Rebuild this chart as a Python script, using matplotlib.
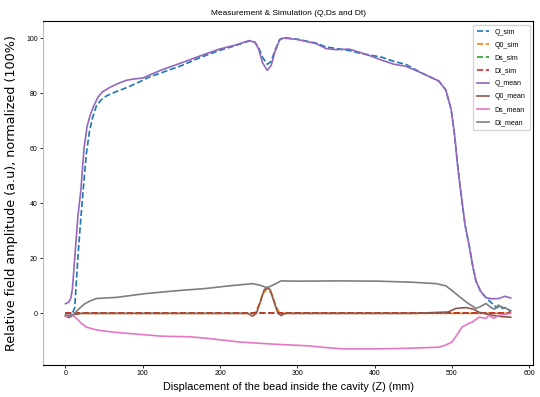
import matplotlib
matplotlib.use('Agg')
import matplotlib.pyplot as plt

#----Data----#
q_mean_x = [0, 4, 7, 9, 12, 16, 20, 24, 28, 32, 36, 42, 48, 58, 68, 79, 90, 100, 108, 125,
            150, 173, 199, 220, 238, 245, 250, 255, 261, 266, 271, 277, 282, 300, 324, 337,
            350, 367, 381, 395, 410, 425, 440, 461, 483, 492, 499, 503, 508, 513, 517, 522,
            527, 531, 537, 544, 552, 561, 568, 576]
q_mean_y = [3.5, 4, 5.5, 9, 20, 35, 45, 60, 68, 72, 75, 78.5, 80.5, 82.2, 83.5, 84.7, 85.2, 85.5, 86.5, 88.5,
            91, 93.4, 96, 97.5, 99.1, 98.5, 96, 91, 88.3, 90, 95, 99.3, 100, 99.5, 98, 96.2,
            95.8, 96, 94.8, 93.5, 91.9, 90.5, 89.8, 87.3, 84.4, 81.2, 74, 65.7, 52, 40.6, 32, 25,
            17, 11.8, 8, 5.7, 5.3, 5.4, 6.2, 5.6]

q_sim_x = [0, 8, 12, 16, 20, 23, 27, 31, 35, 40, 46, 53, 65, 79, 95, 108, 130, 150, 173, 199,
           220, 238, 245, 250, 255, 261, 266, 271, 277, 282, 300, 324, 337, 367, 381, 395, 410,
           425, 440, 461, 483, 492, 499, 503, 508, 513, 517, 522, 527, 531, 537, 544, 552, 558,
           562, 565, 570, 576]
q_sim_y = [-1, -0.5, 2, 20, 35, 45, 58, 66, 71, 75.4, 77.5, 79, 80.5, 82, 84, 85.8, 88, 90, 92.8, 95.5,
           97.3, 99, 98.5, 96.5, 93, 90.5, 91.5, 95.5, 99.5, 100.2, 99.6, 98.2, 96.8, 95.5, 94.5, 93.8, 93,
           91.5, 90.5, 87.3, 84.4, 81.2, 74, 65.7, 52, 40.6, 32, 25, 17, 11.8, 8, 5.7, 3.6, 2,
           3, 1.8, 2.2, 0.4]

dt_mean_x = [0, 5, 10, 18, 25, 32, 40, 66, 85, 104, 147, 180, 212, 242, 252, 261, 270, 279, 300,
             354, 406, 450, 480, 492, 500, 510, 520, 531, 537, 544, 550, 555, 560, 565, 570, 576]
dt_mean_y = [-0.5, -1, -0.5, 1.8, 3.5, 4.5, 5.4, 5.8, 6.5, 7.2, 8.3, 9, 10, 10.8, 10.2, 9.3, 10.5, 11.8, 11.7,
             11.8, 11.7, 11.3, 10.8, 10, 8.3, 6, 3.8, 1.8, 2.5, 3.6, 2.2, 1.5, 3, 2.2, 1.8, 1]

ds_mean_x = [0, 9, 15, 20, 27, 40, 61, 90, 125, 160, 181, 225, 270, 314, 340, 359, 380, 403, 440,
             483, 492, 500, 506, 513, 522, 526, 535, 544, 548, 554, 561, 576]
ds_mean_y = [-1, -0.7, -2, -3.5, -5, -6, -6.8, -7.5, -8.3, -8.5, -9, -10.4, -11.2, -11.8, -12.5, -12.9, -12.9, -12.9, -12.7,
             -12.3, -11.5, -10.4, -8, -5, -3.6, -3.2, -1.4, -1.8, -0.7, -1.8, -0.7, 0]

q0_mean_x = [0, 5, 10, 20, 100, 200, 236, 242, 247, 252, 257, 261, 265, 270, 275, 279, 284, 350,
             450, 495, 505, 518, 528, 535, 552, 565, 576]
q0_mean_y = [-1, -1.5, -0.5, 0, 0, 0, 0, -1, 0, 4, 8.5, 9.5, 8.5, 4, 0, -0.8, 0, 0,
             0, 0.5, 1.8, 2.1, 1.5, 0.4, -0.7, -1.2, -1.4]

q0_sim_x = [0, 245, 250, 255, 261, 267, 272, 277, 576]
q0_sim_y = [0, 0, 3, 7, 9, 7, 3, 0, 0]

zero_x = [0, 576]
zero_y = [0, 0]

narrow = 'Liberation Sans'

#----Plot----#
fig, ax = plt.subplots(figsize=(5.4, 3.97), dpi=100)
fig.subplots_adjust(left=0.08, right=0.987, top=0.947, bottom=0.081)

ax.plot(q_sim_x, q_sim_y, '--', color='C0', lw=1.2, label='Q_sim')
ax.plot(q0_sim_x, q0_sim_y, '--', color='C1', lw=1.2, label='Q0_sim')
ax.plot(zero_x, zero_y, '--', color='C2', lw=1.2, label='Ds_sim')
ax.plot(zero_x, zero_y, '--', color='C3', lw=1.2, label='Dt_sim')
ax.plot(q_mean_x, q_mean_y, color='C4', lw=1.2, label='Q_mean')
ax.plot(q0_mean_x, q0_mean_y, color='C5', lw=1.2, label='Q0_mean')
ax.plot(ds_mean_x, ds_mean_y, color='C6', lw=1.2, label='Ds_mean')
ax.plot(dt_mean_x, dt_mean_y, color='C7', lw=1.2, label='Dt_mean')

ax.set_xticks([0, 100, 200, 300, 400, 500, 600])
ax.set_yticks([0, 20, 40, 60, 80, 100])
ax.set_xlim(-28.8, 604.8)
ax.set_ylim(-18.7, 106.2)
ax.tick_params(labelsize=5, length=2, width=0.6, pad=2)
for lab in ax.get_xticklabels() + ax.get_yticklabels():
    lab.set_family(narrow)
for sp in ax.spines.values():
    sp.set_linewidth(0.8)
ax.spines['left'].set_color('#bbbbbb')

ax.set_title('Measurement & Simulation (Q,Ds and Dt)', fontsize=6, family=narrow, pad=4)
ax.set_xlabel('Displacement of the bead inside the cavity (Z) (mm)', fontsize=7.8, family=narrow, labelpad=3)
ax.set_ylabel('Relative field amplitude (a.u), normalized (100%)', fontsize=9.2, labelpad=6)

ax.legend(loc='upper right', prop={'family': narrow, 'size': 5},
          labelspacing=0.85, handlelength=1.7, borderpad=0.6)

plt.savefig('out.png', dpi=100)
